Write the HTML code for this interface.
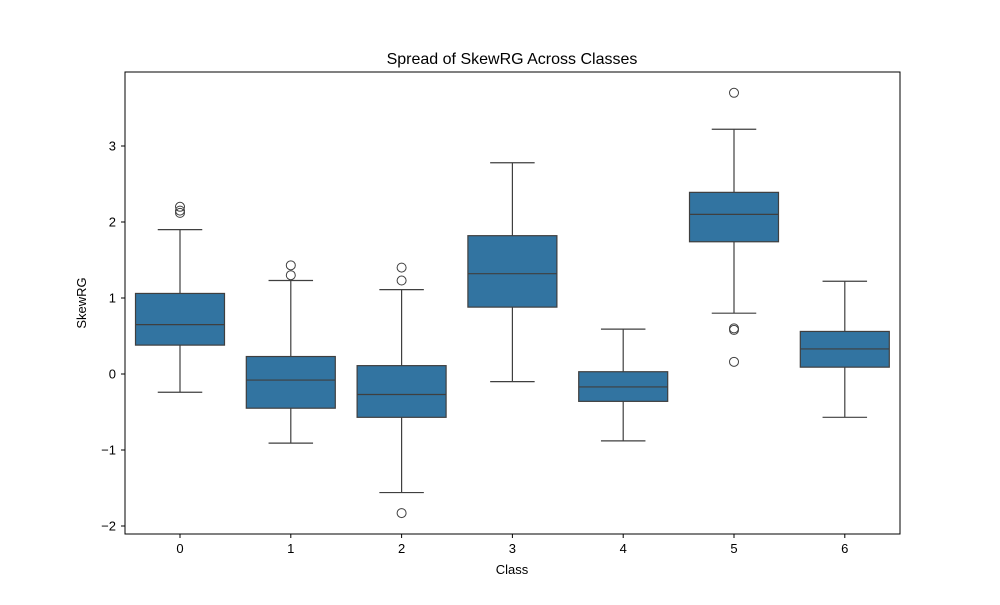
<!DOCTYPE html>
<html><head><meta charset="utf-8"><style>
body{margin:0;background:#fff;font-family:"Liberation Sans",sans-serif}
svg text{font-family:"Liberation Sans",sans-serif;fill:#000}
</style></head><body>
<svg id="chart" width="1000" height="600">
<rect width="1000" height="600" fill="#fff"/>
<text x="512" y="64" font-size="16" text-anchor="middle">Spread of SkewRG Across Classes</text>
<g id="plot"></g>
<rect x="125" y="72" width="775" height="462" fill="none" stroke="#000" stroke-width="1"/>
<text x="512" y="574" font-size="13" text-anchor="middle">Class</text>
<text x="86" y="303" font-size="13" text-anchor="middle" transform="rotate(-90 86 303)">SkewRG</text>
</svg>
<script>
const categories=["0","1","2","3","4","5","6"];
const whiskerLow=[-0.24,-0.91,-1.56,-0.10,-0.88,0.80,-0.57];
const q1=[0.38,-0.45,-0.57,0.88,-0.36,1.74,0.09];
const median=[0.65,-0.08,-0.27,1.32,-0.17,2.10,0.33];
const q3=[1.06,0.23,0.11,1.82,0.03,2.39,0.56];
const whiskerHigh=[1.90,1.23,1.11,2.78,0.59,3.22,1.22];
const outliers=[[2.20,2.15,2.12],[1.30,1.43],[1.23,1.40,-1.83],[],[],[3.70,0.60,0.58,0.16],[]];
const yTicks=[-2,-1,0,1,2,3];
const yTickLabels=["\u22122","\u22121","0","1","2","3"];

const NS="http://www.w3.org/2000/svg";
const g=document.getElementById('plot');
const y=v=>374-76*v;
const x=i=>180+i*110.8;
const bw=89;
function el(t,a){const e=document.createElementNS(NS,t);for(const k in a)e.setAttribute(k,a[k]);g.appendChild(e);return e;}
yTicks.forEach((t,i)=>{
 const l=el('line',{x1:121,x2:125,y1:y(t),y2:y(t),stroke:'#000'});
 
 
 const tx=el('text',{x:116,y:y(t)+4.5,'font-size':13,'text-anchor':'end'});
 tx.textContent=yTickLabels[i];
 
 
});
categories.forEach((c,i)=>{
 const cx=x(i);
 const l=el('line',{x1:cx,x2:cx,y1:534,y2:538,stroke:'#000'});
 
 
 const tx=el('text',{x:cx,y:553,'font-size':13,'text-anchor':'middle'});
 tx.textContent=c;
 
 
 const s='#3f3f3f';
 const w1=el('line',{x1:cx,x2:cx,y1:y(q1[i]),y2:y(whiskerLow[i]),stroke:s,'stroke-width':1.2});
 
 
 const w2=el('line',{x1:cx,x2:cx,y1:y(q3[i]),y2:y(whiskerHigh[i]),stroke:s,'stroke-width':1.2});
 
 
 const c1=el('line',{x1:cx-bw/4,x2:cx+bw/4,y1:y(whiskerLow[i]),y2:y(whiskerLow[i]),stroke:s,'stroke-width':1.2});
 
 
 const c2=el('line',{x1:cx-bw/4,x2:cx+bw/4,y1:y(whiskerHigh[i]),y2:y(whiskerHigh[i]),stroke:s,'stroke-width':1.2});
 
 
 const b=el('rect',{x:cx-bw/2,y:y(q3[i]),width:bw,height:y(q1[i])-y(q3[i]),fill:'#3274a1',stroke:s,'stroke-width':1.2});
 
 
 const m=el('line',{x1:cx-bw/2,x2:cx+bw/2,y1:y(median[i]),y2:y(median[i]),stroke:s,'stroke-width':1.2});
 
 
 outliers[i].forEach(v=>{
  const o=el('circle',{cx:cx,cy:y(v),r:4.5,fill:'none',stroke:s,'stroke-width':1});
  
  
 });
});
</script>
</body></html>
